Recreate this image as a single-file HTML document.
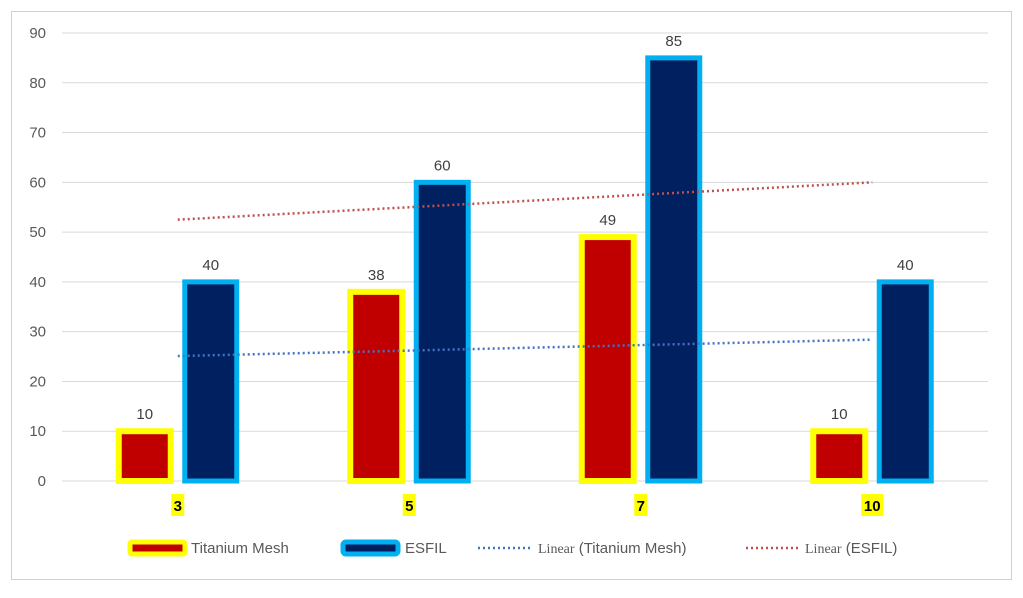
<!DOCTYPE html>
<html><head><meta charset="utf-8"><style>
body{margin:0;background:#fff;font-family:"Liberation Sans",sans-serif}
svg text{font-family:"Liberation Sans",sans-serif}
</style></head><body>
<svg width="1023" height="593">
<rect x="11.5" y="11.5" width="1000" height="568" fill="#fff" stroke="#d0d0d0"/>
<g id="grid"></g><g id="bars"></g><g id="trend"></g><g id="labels"></g>
<g font-size="15" fill="#595959">
<g><rect x="130" y="542" width="55" height="12" rx="2" fill="#c00000" stroke="#ffff00" stroke-width="5"/><text x="191" y="553" fill="#595959">Titanium Mesh</text></g>
<g><rect x="343" y="542" width="55" height="12" rx="3" fill="#002060" stroke="#00b0f0" stroke-width="5"/><text x="405" y="553" fill="#595959">ESFIL</text></g>
<g><line x1="478" y1="548" x2="533" y2="548" stroke="#4472c4" stroke-width="2.5" stroke-dasharray="2,3"/><text x="538" y="553" fill="#595959"><tspan font-family="Liberation Serif" font-size="14">Linear</tspan> (Titanium Mesh)</text></g>
<g><line x1="746" y1="548" x2="800" y2="548" stroke="#c0504d" stroke-width="2.5" stroke-dasharray="2,3"/><text x="805" y="553" fill="#595959"><tspan font-family="Liberation Serif" font-size="14">Linear</tspan> (ESFIL)</text></g>
</g>
</svg>
<script>
const categories=["3","5","7","10"];
const titanium=[10,38,49,10];
const esfil=[40,60,85,40];
const yTicks=[0,10,20,30,40,50,60,70,80,90];
const NS="http://www.w3.org/2000/svg";
const x0=62,x1=988,y0=481,yTop=33,yMax=90;
const y=v=>y0-(v/yMax)*(y0-yTop);
const band=(x1-x0)/categories.length;
const cx=i=>x0+band*(i+0.5);
function mk(tag,attrs,parent){const e=document.createElementNS(NS,tag);for(const k in attrs)e.setAttribute(k,attrs[k]);document.getElementById(parent).appendChild(e);return e;}
yTicks.forEach(t=>{
 const l=mk("line",{x1:x0,x2:x1,y1:y(t),y2:y(t),stroke:"#d9d9d9","stroke-width":1},"grid");
 
 
 const tx=mk("text",{x:46,y:y(t)+5,"text-anchor":"end","font-size":15,fill:"#595959"},"grid");
 tx.textContent=t;
 
 
});
function bar(v,cxv,fill,stroke,sw,name,i){
 const w=52;
 const r=mk("rect",{x:cxv-w/2,y:y(v),width:w,height:y0-y(v),fill:fill,stroke:stroke,"stroke-width":sw},"bars");
 
 
 const t=mk("text",{x:cxv,y:y(v)-12,"text-anchor":"middle","font-size":15,fill:"#404040"},"labels");
 t.textContent=v;
 
 
}
categories.forEach((c,i)=>{
 bar(titanium[i],cx(i)-33,"#c00000","#ffff00",6,"titanium",i);
 bar(esfil[i],cx(i)+33,"#002060","#00b0f0",5,"esfil",i);
 const bx=cx(i);
 const w=c.length*9+4;
 const bg=mk("rect",{x:bx-w/2,y:494,width:w,height:22,fill:"#ffff00"},"labels");
 
 
 const t=mk("text",{x:bx,y:511,"text-anchor":"middle","font-size":15,"font-weight":"bold",fill:"#000"},"labels");
 t.textContent=c;
 
 
});
function trend(vals,color,name){
 const n=vals.length,xs=vals.map((_,i)=>i+1);
 const mx=xs.reduce((a,b)=>a+b)/n,my=vals.reduce((a,b)=>a+b)/n;
 let num=0,den=0;xs.forEach((xv,i)=>{num+=(xv-mx)*(vals[i]-my);den+=(xv-mx)**2;});
 const s=num/den,b=my-s*mx;
 const l=mk("line",{x1:cx(0),y1:y(s*1+b),x2:cx(n-1),y2:y(s*n+b),stroke:color,"stroke-width":2.5,"stroke-dasharray":"2,3"},"trend");
 
 
}
trend(titanium,"#4472c4","trendline-titanium");
trend(esfil,"#c0504d","trendline-esfil");
</script>
</body></html>
